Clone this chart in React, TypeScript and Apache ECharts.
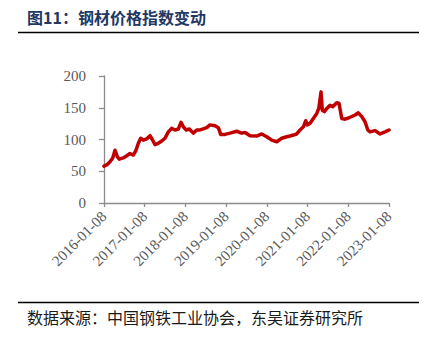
import React, { useEffect, useRef } from "react";
import * as echarts from "echarts";

const titleText = "图11：钢材价格指数变动";
const sourceText = "数据来源：中国钢铁工业协会，东吴证券研究所";

const dates = [
  "2016-01-08", "2016-02-01", "2016-03-02", "2016-03-26", "2016-04-16", "2016-05-06",
  "2016-05-24", "2016-06-29", "2016-07-30", "2016-08-28", "2016-09-27", "2016-10-21",
  "2016-11-11", "2016-12-02", "2016-12-26", "2017-01-25", "2017-02-24", "2017-03-16",
  "2017-04-10", "2017-05-09", "2017-06-09", "2017-07-08", "2017-08-07", "2017-09-06",
  "2017-10-06", "2017-11-05", "2017-11-29", "2017-12-20", "2018-01-13", "2018-02-11",
  "2018-03-19", "2018-04-19", "2018-05-18", "2018-06-03", "2018-07-18", "2018-08-16",
  "2018-09-30", "2018-10-30", "2018-11-20", "2018-12-29", "2019-02-12", "2019-04-13",
  "2019-05-28", "2019-06-26", "2019-08-10", "2019-10-09", "2019-11-23", "2020-01-07",
  "2020-02-21", "2020-04-06", "2020-05-21", "2020-07-05", "2020-08-03", "2020-09-02",
  "2020-10-02", "2020-11-01", "2020-12-01", "2020-12-22", "2021-01-05", "2021-01-30",
  "2021-02-28", "2021-03-31", "2021-04-18", "2021-05-08", "2021-05-20", "2021-06-07",
  "2021-06-29", "2021-07-28", "2021-08-21", "2021-09-26", "2021-10-17", "2021-11-10",
  "2021-12-10", "2022-01-24", "2022-03-10", "2022-04-08", "2022-05-09", "2022-06-07",
  "2022-07-02", "2022-07-22", "2022-09-05", "2022-10-20", "2022-12-04", "2023-01-08",
];

const values = [
  58, 60, 65, 71, 83, 73,
  69, 71, 74.5, 78, 75.5, 83,
  94, 102, 99, 101, 106, 100,
  92, 94, 97.6, 102, 112, 117.6,
  115, 116.5, 127, 120, 115, 116.5,
  110, 115, 115, 116, 118.6, 123,
  121.7, 118.6, 108, 108, 110, 113,
  110, 111, 106, 105.5, 108.7, 104.4,
  99, 96.5, 102, 104.4, 105.5, 107,
  108.7, 115, 120, 129.6, 123, 125.5,
  133, 141, 149, 175, 146, 144,
  149, 154, 151.7, 158, 156.7, 133,
  132, 135, 138.6, 142, 136, 128,
  115, 112, 114, 108.7, 112, 115,
];

const yTicks = [0, 50, 100, 150, 200];
const xStartYear = 2016;
const xEndYear = 2023;

const DAY = 86400000;
const t0 = Date.UTC(xStartYear, 0, 8);
const t1 = Date.UTC(xEndYear, 0, 8);
const span = (t1 - t0) / DAY;
const yearStep = span / (xEndYear - xStartYear);

function offset(d: string): number {
  const [y, m, dd] = d.split("-").map(Number);
  return (Date.UTC(y, m - 1, dd) - t0) / DAY;
}

export default function App() {
  const ref = useRef<HTMLDivElement>(null);
  useEffect(() => {
    document.body.style.margin = "0";
    if (!ref.current) return;
    const chart = echarts.init(ref.current, undefined, { renderer: "svg" });
    const axisColor = "#8c8c8c";
    const labelColor = "#595959";
    const serif = "'Liberation Serif', 'Times New Roman', serif";
    chart.setOption({
      animation: false,
      backgroundColor: "#ffffff",
      grid: { left: 104, right: 44, top: 76, bottom: 138, containLabel: false },
      xAxis: {
        type: "value",
        min: 0,
        max: span,
        interval: yearStep,
        splitLine: { show: false },
        axisLine: { show: true, lineStyle: { color: axisColor, width: 1.3 } },
        axisTick: { show: true, length: 4, lineStyle: { color: axisColor, width: 1.3 } },
        axisLabel: {
          rotate: 45,
          margin: 11,
          color: labelColor,
          fontFamily: serif,
          fontSize: 15,
          showMaxLabel: true,
          showMinLabel: true,
          formatter: (v: number) => `${xStartYear + Math.round(v / yearStep)}-01-08`,
        },
      },
      yAxis: {
        type: "value",
        min: yTicks[0],
        max: yTicks[yTicks.length - 1],
        interval: yTicks[1] - yTicks[0],
        splitLine: { show: false },
        axisLine: { show: true, lineStyle: { color: axisColor, width: 1.3 } },
        axisTick: { show: true, length: 5, lineStyle: { color: axisColor, width: 1.3 } },
        axisLabel: { color: labelColor, fontFamily: serif, fontSize: 15, margin: 18 },
      },
      series: [
        {
          type: "line",
          data: dates.map((d, i) => [offset(d), values[i]]),
          symbol: "none",
          smooth: false,
          lineStyle: { color: "#C00000", width: 3.5, join: "round", cap: "round" },
        },
      ],
      graphic: [
        {
          type: "text",
          left: 27,
          top: 9,
          style: {
            text: titleText,
            fill: "#1F3864",
            font: "bold 16px 'Noto Sans CJK SC', sans-serif",
          },
        },
        {
          type: "line",
          shape: { x1: 18, y1: 32.5, x2: 419, y2: 32.5 },
          style: { stroke: "#000000", lineWidth: 1.5 },
        },
        {
          type: "line",
          shape: { x1: 18, y1: 302.5, x2: 419, y2: 302.5 },
          style: { stroke: "#000000", lineWidth: 1.5 },
        },
        {
          type: "text",
          left: 27,
          top: 309,
          style: {
            text: sourceText,
            fill: "#1a1a1a",
            font: "16px 'Noto Sans CJK SC', sans-serif",
          },
        },
      ],
    });
    return () => chart.dispose();
  }, []);
  return <div ref={ref} style={{ width: 433, height: 341 }} />;
}
